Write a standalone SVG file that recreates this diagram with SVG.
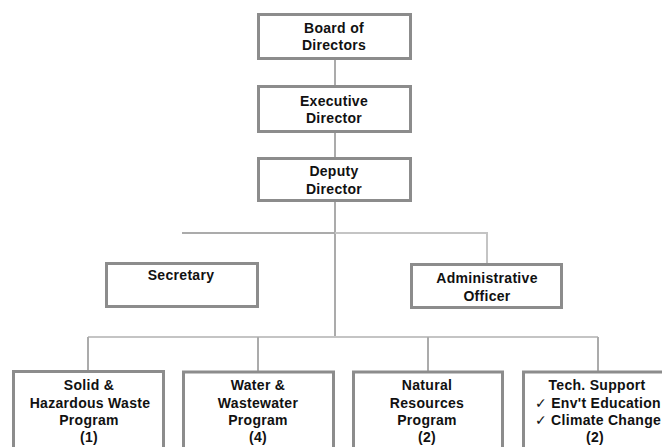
<svg xmlns="http://www.w3.org/2000/svg" width="662" height="447" viewBox="0 0 662 447">
  <style>
    .box { fill: #ffffff; stroke: #8c8c8c; stroke-width: 3; }
    .link { fill: none; stroke: #ababab; stroke-width: 2; }
    .link-light { fill: none; stroke: #c4c4c4; stroke-width: 2; }
    .label { font-family: "Liberation Sans", Arial, "DejaVu Sans", sans-serif; font-size: 14px; font-weight: bold; letter-spacing: 0.3px; fill: #111111; text-anchor: middle; }
  </style>
  <rect x="0" y="0" width="662" height="447" fill="#ffffff"/>

  <!-- connectors -->
  <g id="connectors">
    <line class="link" x1="335" y1="60" x2="335" y2="86"/>
    <line class="link" x1="335" y1="133" x2="335" y2="158"/>
    <line class="link" x1="335" y1="202" x2="335" y2="337"/>
    <line class="link" x1="182" y1="233" x2="335" y2="233"/>
    <polyline class="link-light" points="335,233 487,233 487,264"/>
    <line class="link-light" x1="88" y1="337" x2="598" y2="337"/>
    <line class="link" x1="88" y1="337" x2="88" y2="371"/>
    <line class="link" x1="258" y1="337" x2="258" y2="372"/>
    <line class="link" x1="428" y1="337" x2="428" y2="372"/>
    <line class="link" x1="598" y1="337" x2="598" y2="372"/>
  </g>

  <!-- top chain -->
  <g id="board">
    <rect class="box" x="258.5" y="14.5" width="152" height="44"/>
    <text class="label" x="334" y="33">Board of</text>
    <text class="label" x="334" y="50">Directors</text>
  </g>
  <g id="executive">
    <rect class="box" x="258.5" y="86.5" width="152" height="45"/>
    <text class="label" x="334" y="105.5">Executive</text>
    <text class="label" x="334" y="123">Director</text>
  </g>
  <g id="deputy">
    <rect class="box" x="258.5" y="158.5" width="152" height="42"/>
    <text class="label" x="334" y="176">Deputy</text>
    <text class="label" x="334" y="194">Director</text>
  </g>

  <!-- staff -->
  <g id="secretary">
    <rect class="box" x="106.5" y="263.5" width="151" height="43"/>
    <text class="label" x="181" y="280">Secretary</text>
  </g>
  <g id="admin">
    <rect class="box" x="411.5" y="264.5" width="150" height="43"/>
    <text class="label" x="487" y="283">Administrative</text>
    <text class="label" x="487" y="301">Officer</text>
  </g>

  <!-- programs -->
  <g id="solid-waste">
    <rect class="box" x="13.5" y="371.5" width="150" height="90"/>
    <text class="label" x="89" y="390">Solid &amp;</text>
    <text class="label" x="90" y="407.5">Hazardous Waste</text>
    <text class="label" x="89" y="425">Program</text>
    <text class="label" x="89" y="442">(1)</text>
  </g>
  <g id="water">
    <rect class="box" x="183.5" y="372" width="150" height="90"/>
    <text class="label" x="258" y="390">Water &amp;</text>
    <text class="label" x="258" y="407.5">Wastewater</text>
    <text class="label" x="258" y="425">Program</text>
    <text class="label" x="258" y="442">(4)</text>
  </g>
  <g id="natural">
    <rect class="box" x="353.5" y="372" width="149" height="90"/>
    <text class="label" x="427" y="390">Natural</text>
    <text class="label" x="427" y="407.5">Resources</text>
    <text class="label" x="427" y="425">Program</text>
    <text class="label" x="427" y="442">(2)</text>
  </g>
  <g id="tech-support">
    <rect class="box" x="523.5" y="372" width="150" height="90"/>
    <text class="label" x="597" y="390">Tech. Support</text>
    <text class="label" x="598" y="407.5">✓ Env't Education</text>
    <text class="label" x="598" y="425">✓ Climate Change</text>
    <text class="label" x="595" y="442">(2)</text>
  </g>
</svg>
